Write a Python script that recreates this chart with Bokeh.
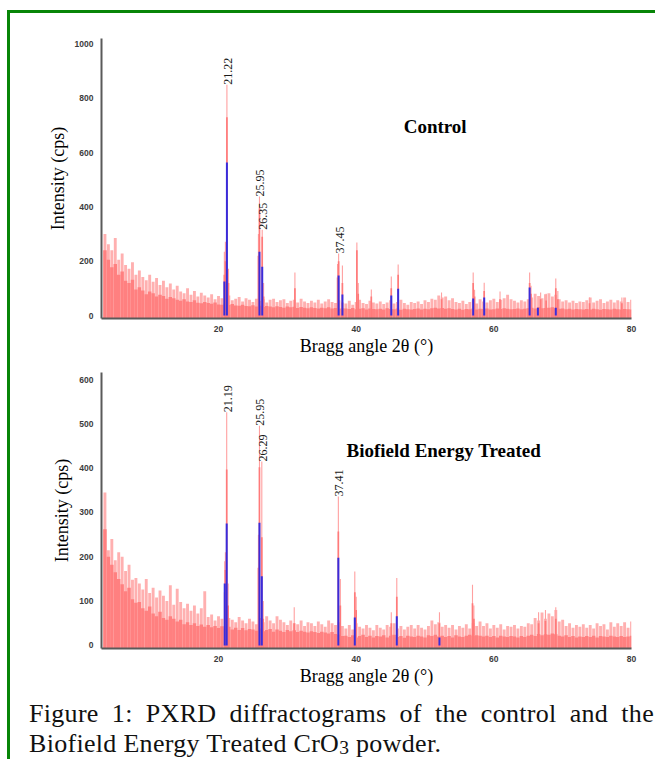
import numpy as np
from bokeh.plotting import figure
from bokeh.models import Range1d, FixedTicker, Label, Div, ColumnDataSource
from bokeh.layouts import column
from bokeh.embed import file_html
from bokeh.resources import INLINE
from bokeh.core.properties import value

# ---------------- data ----------------
# measurement grid (2-theta, degrees)
two_theta = np.round(np.arange(3.5, 80.01, 0.5), 2)

# Control: background level (solid) and noise tips
ctrl_base = [
    240, 205, 178, 190, 150, 162, 128, 120, 132, 96,
    104, 92, 78, 88, 82, 70, 76, 72, 62, 68,
    64, 58, 54, 60, 52, 50, 56, 47, 45, 50,
    46, 43, 48, 41, 40, 44, 39, 42, 37, 36,
    40, 35, 34, 38, 33, 36, 31, 35, 33, 30,
    34, 31, 29, 33, 30, 32, 28, 31, 29, 27,
    30, 28, 26, 29, 27, 30, 26, 28, 25, 27,
    26, 24, 28, 23, 25, 27, 22, 26, 24, 23,
    25, 22, 27, 24, 23, 26, 21, 25, 23, 22,
    24, 26, 22, 25, 23, 27, 29, 26, 28, 25,
    27, 24, 22, 25, 21, 24, 23, 26, 22, 25,
    24, 26, 22, 23, 26, 24, 27, 25, 23, 24,
    26, 23, 25, 27, 29, 26, 30, 27, 28, 29,
    30, 27, 25, 26, 23, 25, 22, 24, 23, 22,
    24, 22, 25, 23, 21, 24, 23, 22, 25, 23,
    22, 24, 23, 22,
]
ctrl_tip = [
    300, 262, 240, 285, 205, 228, 186, 172, 196, 150,
    166, 142, 130, 150, 124, 138, 112, 128, 104, 118,
    96, 110, 88, 82, 100, 76, 90, 70, 84, 74,
    66, 78, 60, 72, 64, 58, 74, 56, 62, 68,
    52, 64, 58, 50, 62, 54, 60, 48, 58, 62,
    50, 56, 60, 46, 54, 58, 48, 62, 52, 46,
    54, 48, 58, 44, 52, 60, 50, 46, 56, 48,
    44, 54, 40, 50, 58, 46, 42, 54, 48, 44,
    52, 42, 48, 56, 44, 50, 58, 46, 40, 50,
    46, 52, 42, 56, 50, 62, 58, 74, 66, 70,
    56, 64, 50, 46, 54, 42, 50, 56, 44, 60,
    52, 48, 56, 62, 50, 58, 64, 76, 60, 54,
    48, 56, 52, 60, 66, 80, 72, 64, 78, 82,
    70, 76, 60, 52, 56, 48, 54, 46, 52, 50,
    56, 66, 48, 54, 60, 46, 52, 58, 48, 56,
    52, 66, 50, 58,
]
# Control: sharp diffraction peaks
ctrl_pk_pos = [20.85, 21.0, 21.22, 21.45, 25.8, 25.95, 26.35, 26.55, 31.1, 37.3,
               37.45, 38.0, 40.1, 40.3, 42.2, 45.1, 46.1, 52.4, 57.0, 57.2,
               58.6, 60.9, 65.2, 65.4, 66.8, 67.6, 69.0, 69.3, 73.9, 78.6]
ctrl_pk_body = [150, 200, 730, 120, 220, 395, 290, 70, 100, 140,
                200, 120, 240, 80, 70, 100, 150, 60, 120, 70,
                90, 60, 120, 80, 60, 55, 100, 60, 45, 45]
ctrl_pk_tip = [235, 272, 850, 172, 300, 438, 316, 120, 158, 190,
               228, 184, 269, 120, 96, 144, 188, 85, 158, 95,
               121, 88, 158, 110, 85, 80, 136, 90, 66, 66]
# Control: reference stick pattern (blue)
ctrl_ref_pos = [20.85, 21.22, 25.95, 26.35, 37.45, 38.0, 45.1, 46.1, 57.0, 58.6, 65.2, 66.4, 69.0]
ctrl_ref_int = [125, 563, 235, 180, 147, 77, 74, 99, 63, 66, 103, 29, 29]
ctrl_lbl = ["21.22", "25.95", "26.35", "37.45"]
ctrl_lbl_pos = [21.22, 25.95, 26.35, 37.45]
ctrl_lbl_int = [850, 438, 316, 228]

# Biofield Energy Treated
trt_base = [
    262, 200, 182, 165, 150, 138, 122, 130, 104, 96,
    98, 84, 78, 88, 72, 66, 76, 62, 58, 66,
    60, 54, 58, 48, 52, 46, 50, 44, 47, 42,
    46, 41, 44, 39, 43, 38, 42, 36, 40, 35,
    39, 34, 37, 36, 33, 38, 32, 35, 37, 31,
    36, 33, 30, 35, 32, 34, 30, 33, 31, 29,
    32, 30, 28, 31, 29, 27, 30, 26, 24, 21,
    22, 19, 23, 18, 21, 24, 19, 22, 18, 21,
    20, 23, 18, 22, 24, 19, 21, 17, 22, 20,
    19, 22, 20, 18, 23, 21, 24, 20, 22, 19,
    21, 18, 23, 20, 19, 22, 24, 21, 23, 22,
    20, 22, 19, 21, 18, 22, 20, 19, 21, 20,
    18, 21, 19, 22, 24, 21, 26, 23, 25, 24,
    27, 25, 22, 20, 23, 19, 21, 18, 20, 19,
    21, 19, 22, 18, 21, 20, 19, 22, 20, 19,
    21, 19, 20, 22,
]
trt_tip = [
    345, 215, 240, 192, 210, 200, 168, 182, 148, 152,
    140, 126, 150, 118, 130, 108, 124, 112, 100, 136,
    92, 128, 98, 84, 94, 78, 90, 72, 84, 122,
    64, 70, 56, 66, 60, 54, 62, 58, 52, 64,
    56, 50, 60, 54, 48, 62, 52, 66, 56, 50,
    66, 58, 52, 46, 56, 50, 48, 56, 44, 52,
    50, 44, 54, 48, 42, 56, 50, 46, 52, 44,
    38, 46, 36, 50, 42, 38, 46, 40, 34, 46,
    40, 36, 46, 42, 50, 38, 44, 36, 42, 46,
    38, 46, 40, 36, 44, 56, 48, 52, 42, 46,
    40, 46, 36, 44, 40, 48, 38, 50, 44, 54,
    44, 50, 38, 46, 40, 48, 36, 44, 42, 46,
    38, 44, 42, 50, 48, 62, 56, 74, 60, 72,
    66, 80, 54, 58, 44, 50, 40, 46, 42, 48,
    40, 46, 38, 50, 44, 48, 36, 52, 42, 50,
    44, 52, 40, 54,
]
trt_pk_pos = [20.9, 21.0, 21.19, 21.4, 25.8, 25.95, 26.29, 26.5, 31.0, 37.41,
              37.7, 39.8, 40.0, 45.1, 45.9, 52.1, 56.9, 57.1, 66.5, 67.5, 69.0]
trt_pk_body = [120, 170, 397, 90, 175, 402, 244, 60, 50, 257,
               90, 120, 80, 50, 110, 50, 95, 60, 50, 55, 60]
trt_pk_tip = [190, 210, 526, 140, 250, 496, 415, 100, 86, 336,
              150, 167, 110, 75, 152, 75, 137, 90, 75, 80, 86]
trt_ref_pos = [20.9, 21.19, 25.95, 26.29, 37.41, 39.8, 45.9, 52.1]
trt_ref_int = [140, 275, 277, 156, 198, 63, 66, 18]
trt_lbl = ["21.19", "25.95", "26.29", "37.41"]
trt_lbl_pos = [21.19, 25.95, 26.29, 37.41]
trt_lbl_int = [526, 496, 415, 336]

x_ticks = [20, 40, 60, 80]
ctrl_y_ticks = [0, 200, 400, 600, 800, 1000]
trt_y_ticks = [0, 100, 200, 300, 400, 500, 600]

SALMON = "#FF8080"
PINK = "#FFB0B0"
BLUE = "#2323E6"
SERIF = "Liberation Serif"


def panel(base, tip, pk_pos, pk_body, pk_tip, ref_pos, ref_int,
          lbl, lbl_pos, lbl_int, y_ticks, y_lo, y_hi, title, tx, ty,
          w, h, bl, br, bt, bb):
    p = figure(width=w, height=h, output_backend="svg", toolbar_location=None,
               x_range=Range1d(3.0, 80.0), y_range=Range1d(y_lo, y_hi),
               min_border_left=bl, min_border_right=br,
               min_border_top=bt, min_border_bottom=bb)
    p.outline_line_color = None
    p.grid.visible = False
    p.background_fill_color = "white"
    p.border_fill_color = "white"

    src = ColumnDataSource(dict(x=two_theta, base=base, tip=tip))
    p.vbar(x="x", width=0.42, top="tip", bottom=y_lo, source=src,
           fill_color=PINK, line_color=None)
    p.vbar(x="x", width=0.5, top="base", bottom=y_lo, source=src,
           fill_color=SALMON, line_color=None)

    psrc = ColumnDataSource(dict(x=pk_pos, body=pk_body, tip=pk_tip))
    p.vbar(x="x", width=0.16, top="tip", bottom=y_lo, source=psrc,
           fill_color="#FFA0A0", line_color=None)
    p.vbar(x="x", width=0.24, top="body", bottom=y_lo, source=psrc,
           fill_color="#FF7A7A", line_color=None)

    rsrc = ColumnDataSource(dict(x=ref_pos, y0=[0] * len(ref_pos), y1=ref_int))
    p.segment(x0="x", y0="y0", x1="x", y1="y1", source=rsrc,
              line_color=BLUE, line_width=2, line_alpha=0.9)

    lsrc = ColumnDataSource(dict(x=lbl_pos, y=lbl_int, t=lbl))
    p.text(x="x", y="y", text="t", source=lsrc, angle=np.pi / 2,
           text_font=value(SERIF), text_font_size="12px",
           text_align="left", text_baseline="middle", text_color="#1a1a1a",
           x_offset=1)

    p.add_layout(Label(x=tx, y=ty, text=title, text_font=SERIF,
                       text_font_size="19px", text_font_style="bold",
                       text_baseline="middle", text_color="black"))

    xa = p.xaxis[0]
    xa.ticker = FixedTicker(ticks=x_ticks)
    xa.axis_label = "Bragg angle 2θ (°)"
    ya = p.yaxis[0]
    ya.ticker = FixedTicker(ticks=y_ticks)
    ya.axis_label = "Intensity (cps)"
    for ax in (xa, ya):
        ax.axis_label_text_font = SERIF
        ax.axis_label_text_font_size = "18px"
        ax.axis_label_text_font_style = "normal"
        ax.axis_label_text_color = "black"
        ax.major_label_text_font = "Liberation Sans"
        ax.major_label_text_font_size = "8.5px"
        ax.major_label_text_font_style = "bold"
        ax.major_label_text_color = "#3c3c3c"
        ax.major_tick_line_color = None
        ax.minor_tick_line_color = None
        ax.axis_line_color = "#5a5a5a"
        ax.axis_line_width = 2
    xa.major_label_standoff = 1
    xa.axis_label_standoff = 1
    ya.major_label_standoff = 2
    ya.axis_label_standoff = 4
    return p


p1 = panel(ctrl_base, ctrl_tip, ctrl_pk_pos, ctrl_pk_body, ctrl_pk_tip,
           ctrl_ref_pos, ctrl_ref_int, ctrl_lbl, ctrl_lbl_pos, ctrl_lbl_int,
           ctrl_y_ticks, -11, 1020, "Control", 46.9, 696,
           w=645, h=351, bl=91, br=22, bt=25, bb=46)
p2 = panel(trt_base, trt_tip, trt_pk_pos, trt_pk_body, trt_pk_tip,
           trt_ref_pos, trt_ref_int, trt_lbl, trt_lbl_pos, trt_lbl_int,
           trt_y_ticks, -7, 616, "Biofield Energy Treated", 38.6, 440,
           w=645, h=329, bl=89, br=24, bt=8, bb=45)

caption = Div(
    text=(
        '<div style="font-family:\'Liberation Serif\';font-size:26px;line-height:30px;'
        'letter-spacing:0.3px;color:#111;width:625px;padding-top:6px;">'
        '<div style="text-align:justify;text-align-last:justify;">'
        'Figure 1: PXRD diffractograms of the control and the</div>'
        '<div>Biofield Energy Treated CrO<sub style="font-size:0.75em;vertical-align:-0.12em;">3</sub> powder.</div>'
        '</div>'
    ),
    width=625, height=66, margin=(0, 0, 0, 19),
)

layout = column(p1, p2, caption, margin=(10, 0, 0, 7),
                styles={"border-left": "3px solid #078507",
                        "border-top": "3px solid #078507",
                        "background": "white"})

open("out.html", "w").write(file_html(layout, INLINE))
